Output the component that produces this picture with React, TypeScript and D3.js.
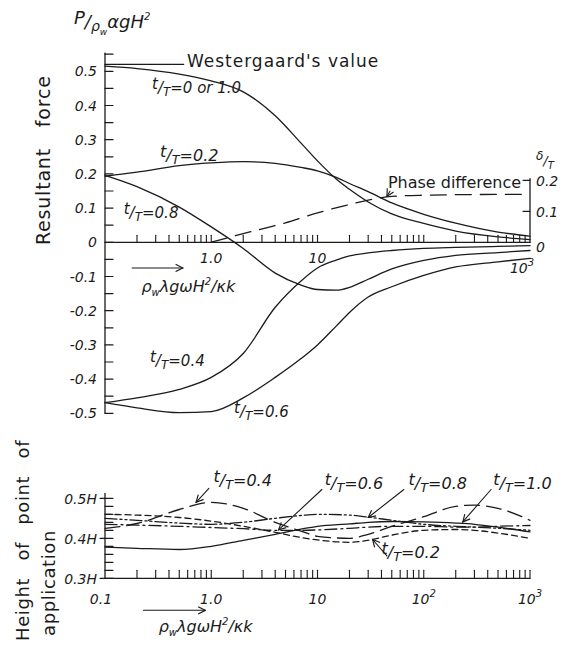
import React, { useEffect, useRef } from "react";
import * as d3 from "d3";

// upper panel: resultant force vs. log parameter
const xForce = [0.1, 0.2, 0.5, 1, 2, 4, 7, 10, 15, 20, 30, 50, 100, 200, 500, 1000];
const force00 = [0.515, 0.508, 0.492, 0.472, 0.44, 0.37, 0.29, 0.238, 0.185, 0.155, 0.118, 0.083, 0.055, 0.033, 0.016, 0.008];
const force02 = [0.193, 0.205, 0.224, 0.232, 0.236, 0.231, 0.219, 0.209, 0.19, 0.172, 0.148, 0.115, 0.082, 0.056, 0.03, 0.018];
const force04 = [-0.469, -0.455, -0.43, -0.395, -0.325, -0.19, -0.113, -0.075, -0.052, -0.04, -0.031, -0.024, -0.018, -0.015, -0.012, -0.01];
const force06 = [-0.469, -0.484, -0.498, -0.495, -0.455, -0.395, -0.34, -0.3, -0.245, -0.205, -0.16, -0.13, -0.097, -0.072, -0.057, -0.047];
const force08 = [0.196, 0.163, 0.103, 0.045, -0.018, -0.09, -0.125, -0.138, -0.14, -0.132, -0.108, -0.078, -0.053, -0.038, -0.03, -0.024];
const westergaard = 0.52;
const westergaardX = [0.1, 0.55];

// phase difference (right axis, delta/T)
const xPhase = [1, 2, 5, 10, 20, 30, 50, 100, 300, 1000];
const phase = [0, 0.028, 0.063, 0.095, 0.122, 0.136, 0.148, 0.152, 0.154, 0.155];

// lower panel: height of point of application
const xHeight = [0.1, 0.2, 0.5, 1, 2, 4, 7, 10, 20, 30, 50, 100, 200, 300, 500, 1000];
const height02 = [0.46, 0.458, 0.452, 0.443, 0.43, 0.415, 0.402, 0.396, 0.39, 0.395, 0.408, 0.42, 0.422, 0.42, 0.413, 0.4];
const height04 = [0.425, 0.437, 0.472, 0.49, 0.475, 0.44, 0.418, 0.405, 0.4, 0.41, 0.43, 0.454, 0.48, 0.483, 0.475, 0.445];
const height06 = [0.435, 0.433, 0.43, 0.427, 0.424, 0.42, 0.42, 0.421, 0.425, 0.428, 0.43, 0.43, 0.428, 0.428, 0.43, 0.432];
const height08 = [0.45, 0.445, 0.438, 0.435, 0.44, 0.45, 0.457, 0.46, 0.458, 0.453, 0.445, 0.435, 0.43, 0.428, 0.425, 0.42];
const height10 = [0.378, 0.375, 0.372, 0.38, 0.395, 0.41, 0.423, 0.43, 0.436, 0.44, 0.442, 0.441, 0.438, 0.435, 0.428, 0.416];

// tick labels
const forceTicks = [0.5, 0.4, 0.3, 0.2, 0.1, 0, -0.1, -0.2, -0.3, -0.4, -0.5];
const forceTickLabels = ["0.5", "0.4", "0.3", "0.2", "0.1", "0", "-0.1", "-0.2", "-0.3", "-0.4", "-0.5"];
const phaseTicks = [0.2, 0.1, 0];
const phaseTickLabels = ["0.2", "0.1", "0"];
const heightTicks = [0.5, 0.4, 0.3];
const heightTickLabels = ["0.5H", "0.4H", "0.3H"];
const decades = [0.1, 1, 10, 100, 1000];
const topDecadeLabels = ["", "1.0", "10", "", "10^3"];
const bottomDecadeLabels = ["0.1", "1.0", "10", "10^2", "10^3"];

const INK = "#1b1b1b";
const FONT = "'DejaVu Sans', 'Liberation Sans', sans-serif";

const App = () => {
  const svgRef = useRef(null);

  useEffect(() => {
    const width = 569;
    const height = 650;

    const x = d3.scaleLog().domain([0.1, 1000]).range([105, 530]);
    const yF = d3.scaleLinear().domain([-0.5, 0.5]).range([413.3, 71.3]);
    const yP = d3.scaleLinear().domain([0, 0.2]).range([yF(0), yF(0) - 62]);
    const yH = d3.scaleLinear().domain([0.3, 0.5]).range([578.3, 498.3]);

    const svg = d3.select(svgRef.current);
    svg.selectAll("*").remove();
    svg.attr("width", width).attr("height", height);

    svg.append("rect").attr("width", width).attr("height", height).attr("fill", "#fff");

    // open arrow head like the hand drawn ones
    svg
      .append("defs")
      .append("marker")
      .attr("id", "vhead")
      .attr("viewBox", "0 0 10 10")
      .attr("refX", 9)
      .attr("refY", 5)
      .attr("markerWidth", 9)
      .attr("markerHeight", 9)
      .attr("markerUnits", "userSpaceOnUse")
      .attr("orient", "auto")
      .append("path")
      .attr("d", "M1,1 L9,5 L1,9")
      .attr("fill", "none")
      .attr("stroke", INK)
      .attr("stroke-width", 1.3);

    const g = svg.append("g").attr("stroke-linecap", "round");

    const seg = (x1, y1, x2, y2, w = 1.3) =>
      g.append("line").attr("x1", x1).attr("y1", y1).attr("x2", x2).attr("y2", y2)
        .attr("stroke", INK).attr("stroke-width", w);

    const arrow = (x1, y1, x2, y2) => seg(x1, y1, x2, y2, 1.1).attr("marker-end", "url(#vhead)");

    // text built from parts: [string, offset from baseline, font size]
    const label = (px, py, parts, opts: any = {}) => {
      const size = opts.size || 15;
      const t = g.append("text")
        .attr("x", px).attr("y", py)
        .attr("font-family", FONT)
        .attr("font-size", size)
        .attr("font-style", opts.italic === false ? "normal" : "italic")
        .attr("text-anchor", opts.anchor || "start")
        .attr("fill", INK);
      if (opts.rotate) t.attr("transform", `rotate(${opts.rotate},${px},${py})`);
      if (opts.spacing) t.attr("letter-spacing", opts.spacing);
      if (opts.wordSpacing) t.attr("word-spacing", opts.wordSpacing);
      let shift = 0;
      parts.forEach(([s, off, fs]) => {
        t.append("tspan").attr("dy", off - shift).attr("font-size", fs || size).text(s);
        shift = off;
      });
      return t;
    };
    const plain = (s) => {
      const [base, exp] = s.split("^");
      return exp ? [[base, 0], [exp, -7, 10]] : [[base, 0]];
    };
    const tOverT = (px, py, val, size = 15) =>
      label(px, py, [["t", -4], ["/", 0], ["T", 3, size * 0.8], ["=" + val, 0]], { size });
    const param = (px, py) =>
      label(px, py, [["ρ", 0], ["w", 4, 10], ["λgωH", 0], ["2", -7, 10], ["/κk", 0]], { size: 16 });

    const minor = d3.range(-1, 3).flatMap((e) => d3.range(2, 10).map((m) => m * Math.pow(10, e)));

    // ---------- upper panel axes ----------
    seg(x(0.1), yF(-0.5), x(0.1), yF(0.553));
    d3.range(-10, 12).forEach((i) => seg(x(0.1), yF(i * 0.05), x(0.1) + 8, yF(i * 0.05), 1.2));
    seg(x(0.1), yF(0), x(1000), yF(0));
    minor.concat([1, 10, 100]).forEach((v) => seg(x(v), yF(0), x(v), yF(0) - 7, 1.1));
    forceTicks.forEach((v, i) =>
      label(x(0.1) - 8, yF(v) + 5, plain(forceTickLabels[i]), { anchor: "end", size: 14 }));
    decades.forEach((v, i) => {
      if (!topDecadeLabels[i]) return;
      const sup = topDecadeLabels[i].includes("^");
      label(x(v) + (sup ? -8 : 0), yF(0) + (sup ? 31 : 21), plain(topDecadeLabels[i]), { anchor: "middle", size: 14 });
    });

    // right axis for phase difference
    seg(x(1000), yF(0), x(1000), yP(0.205));
    phaseTicks.forEach((v, i) => {
      if (v > 0) seg(x(1000) - 7, yP(v), x(1000), yP(v), 1.2);
      label(x(1000) + 6, yP(v) + 6 + (v === 0 ? 4 : 0), plain(phaseTickLabels[i]), { size: 14 });
    });
    label(x(1000) + 6, yP(0.2) - 18, [["δ", -2, 12], ["/", 3, 13], ["T", 7, 10]], { size: 13 });

    // ---------- upper panel curves ----------
    const lineF = d3.line().x((d) => x(d[0])).y((d) => yF(d[1])).curve(d3.curveMonotoneX);
    const drawF = (ys, dash = null) => {
      const p = g.append("path")
        .attr("d", lineF(xForce.map((v, i) => [v, ys[i]])))
        .attr("fill", "none").attr("stroke", INK).attr("stroke-width", 1.3);
      if (dash) p.attr("stroke-dasharray", dash);
    };
    [force00, force02, force04, force06, force08].forEach((ys) => drawF(ys));
    seg(x(westergaardX[0]), yF(westergaard), x(westergaardX[1]), yF(westergaard));

    const lineP = d3.line().x((d) => x(d[0])).y((d) => yP(d[1])).curve(d3.curveMonotoneX);
    g.append("path")
      .attr("d", lineP(xPhase.map((v, i) => [v, phase[i]])))
      .attr("fill", "none").attr("stroke", INK).attr("stroke-width", 1.3)
      .attr("stroke-dasharray", "16,9");

    // ---------- upper panel annotations ----------
    label(74, 28, [["P", -4], ["/", 0], ["ρ", 3, 14], ["w", 7, 9], ["αgH", 0], ["2", -8, 10]], { size: 18 });
    label(50, yF(0.24), [["Resultant force", 0]], { rotate: -90, anchor: "middle", italic: false, size: 19, spacing: 0.8, wordSpacing: 14 });
    label(x(0.59), yF(0.512), [["Westergaard's value", 0]], { italic: false, size: 17, spacing: 1 });
    tOverT(x(0.277), yF(0.437), "0 or 1.0", 15);
    tOverT(x(0.33), yF(0.239), "0.2", 16);
    tOverT(x(0.15), yF(0.07), "0.8", 15);
    tOverT(x(0.265), yF(-0.3625), "0.4", 15);
    tOverT(x(1.64), yF(-0.51), "0.6", 15);
    label(x(46), yP(0.175), [["Phase difference", 0]], { italic: false, size: 16 });
    arrow(x(48), yP(0.165), x(45), yP(0.148));
    arrow(x(0.18), yF(-0.075), x(0.54), yF(-0.075));
    param(x(0.22), yF(-0.145));

    // ---------- lower panel axes ----------
    seg(x(0.1), yH(0.3), x(0.1), yH(0.512));
    d3.range(0, 11).forEach((i) => {
      const v = 0.3 + i * 0.02;
      seg(x(0.1), yH(v), x(0.1) + 8, yH(v), 1.2);
    });
    heightTicks.forEach((v, i) => {
      seg(x(0.1) - 5, yH(v), x(0.1), yH(v), 1.2);
      label(x(0.1) - 8, yH(v) + 6, plain(heightTickLabels[i]), { anchor: "end", size: 14 });
    });
    seg(x(0.1), yH(0.3), x(1000), yH(0.3));
    minor.concat([1, 10, 100, 1000]).forEach((v) => seg(x(v), yH(0.3), x(v), yH(0.3) - 8, 1.1));
    decades.forEach((v, i) =>
      label(x(v) + (i === 0 ? -4 : 0), yH(0.3) + 26, plain(bottomDecadeLabels[i]), { anchor: "middle", size: 14 }));

    // ---------- lower panel curves ----------
    const lineH = d3.line().x((d) => x(d[0])).y((d) => yH(d[1])).curve(d3.curveMonotoneX);
    const drawH = (ys, dash) => {
      const p = g.append("path")
        .attr("d", lineH(xHeight.map((v, i) => [v, ys[i]])))
        .attr("fill", "none").attr("stroke", INK).attr("stroke-width", 1.3);
      if (dash) p.attr("stroke-dasharray", dash);
    };
    drawH(height10, null);
    drawH(height02, "6,4");
    drawH(height04, "15,7");
    drawH(height06, "12,4,2,4");
    drawH(height08, "12,3,2,3,2,3");

    // ---------- lower panel annotations ----------
    tOverT(x(1.05), yH(0.531), "0.4", 16);
    tOverT(x(11.7), yH(0.523), "0.6", 16);
    tOverT(x(72), yH(0.523), "0.8", 16);
    tOverT(x(452), yH(0.523), "1.0", 16);
    tOverT(x(40), yH(0.35), "0.2", 16);
    arrow(x(0.95), yH(0.525), x(0.72), yH(0.49));
    arrow(x(11), yH(0.522), x(4.3), yH(0.421));
    arrow(x(65), yH(0.522), x(30), yH(0.452));
    arrow(x(430), yH(0.522), x(233), yH(0.441));
    arrow(x(45), yH(0.356), x(33), yH(0.397));
    label(29, 641, [["Height of point of", 0]], { rotate: -90, italic: false, size: 18, spacing: 0.6, wordSpacing: 11 });
    label(55, 636, [["application", 0]], { rotate: -90, italic: false, size: 18, spacing: 0.6 });
    arrow(x(0.23), yH(0.22), x(0.88), yH(0.22));
    param(x(0.32), yH(0.166));
  }, []);

  return (
    <div style={{ position: "absolute", left: 0, top: 0 }}>
      <svg ref={svgRef}></svg>
    </div>
  );
};

export default App;
